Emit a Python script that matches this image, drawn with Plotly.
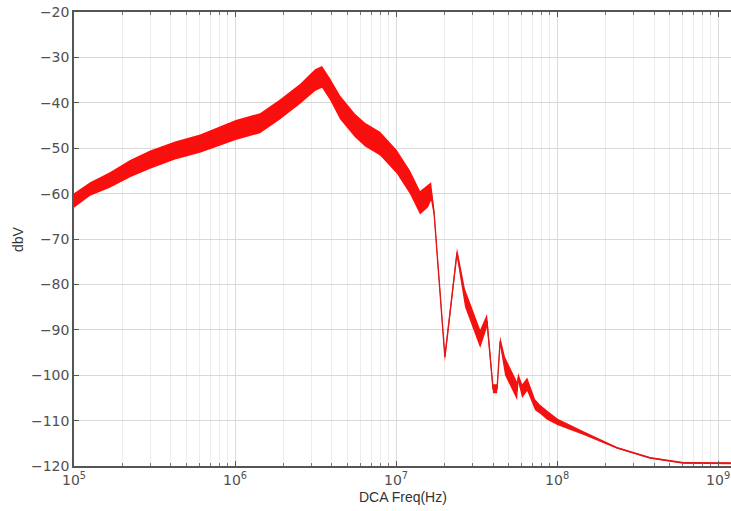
import plotly.graph_objects as go

# Frequency (Hz)
freq = [1.0e5, 1.26e5, 1.67e5, 2.23e5, 2.97e5, 4.24e5, 6.06e5, 1.01e6, 1.43e6, 1.90e6,
        2.54e6, 3.14e6, 3.47e6, 3.89e6, 4.49e6, 5.56e6, 6.42e6, 7.96e6, 1.01e7, 1.22e7,
        1.41e7, 1.58e7, 1.65e7, 1.72e7, 2.01e7, 2.39e7, 2.68e7, 3.33e7, 3.67e7, 4.00e7,
        4.24e7, 4.43e7, 4.75e7, 5.65e7, 5.73e7, 6.07e7, 6.52e7, 7.30e7, 7.84e7, 8.67e7,
        1.01e8, 1.45e8, 2.36e8, 3.78e8, 6.07e8, 1.0e9, 1.2e9]
# Centre level (dBV)
level = [-61.5, -59.0, -57.0, -54.5, -52.5, -50.5, -49.0, -46.0, -44.5, -41.5,
         -38.0, -35.0, -34.3, -37.0, -41.0, -45.0, -47.0, -49.0, -53.0, -57.5,
         -62.0, -60.5, -59.5, -64.0, -96.0, -73.0, -83.0, -92.0, -88.0, -103.0,
         -103.0, -92.5, -98.0, -103.5, -100.5, -103.5, -102.0, -106.5, -107.5, -108.8,
         -110.3, -112.7, -116.0, -118.2, -119.3, -119.4, -119.4]
# Half width of the noisy band (dB)
spread = [1.6, 1.5, 1.7, 1.9, 2.0, 2.0, 2.0, 2.2, 2.2, 2.2,
          2.2, 2.4, 2.4, 2.4, 2.6, 2.6, 2.6, 2.6, 2.6, 2.6,
          2.6, 2.5, 2.0, 1.0, 1.0, 1.0, 2.0, 2.0, 1.5, 1.0,
          1.0, 1.0, 2.0, 2.0, 1.0, 1.5, 1.5, 1.2, 1.0, 1.0,
          0.7, 0.4, 0.2, 0.2, 0.2, 0.2, 0.2]

upper = [c + s for c, s in zip(level, spread)]
lower = [c - s for c, s in zip(level, spread)]

x_major = [1e5, 1e6, 1e7, 1e8, 1e9]
x_major_text = ["10<sup>5</sup>", "10<sup>6</sup>", "10<sup>7</sup>", "10<sup>8</sup>", "10<sup>9</sup>"]
x_minor = [m * d for d in [1e5, 1e6, 1e7, 1e8] for m in range(2, 10)]
y_ticks = list(range(-120, -19, 10))

fig = go.Figure()
fig.add_trace(go.Scatter(x=freq, y=upper, mode="lines", line=dict(width=0, color="#ff0000"),
                         showlegend=False, hoverinfo="skip"))
fig.add_trace(go.Scatter(x=freq, y=lower, mode="lines", line=dict(width=0, color="#ff0000"),
                         fill="tonexty", fillcolor="rgba(255,0,0,0.95)", showlegend=False,
                         hoverinfo="skip"))
fig.add_trace(go.Scatter(x=freq, y=level, mode="lines", line=dict(width=1.4, color="#dd1a1a"),
                         showlegend=False))

axis_font = dict(family="DejaVu Sans", size=14, color="#505050")
title_font = dict(family="Liberation Sans", size=14, color="#333333")
fig.update_layout(
    width=731, height=511,
    margin=dict(l=74, r=0, t=12, b=45),
    paper_bgcolor="white", plot_bgcolor="white",
    xaxis=dict(
        type="log", range=[5, 9.08], automargin=False,
        tickmode="array", tickvals=x_major, ticktext=x_major_text,
        showgrid=True, gridcolor="#dcdcdc", gridwidth=1,
        showline=True, linecolor="#555555", linewidth=1.5, mirror="ticks",
        ticks="inside", ticklen=5, tickcolor="#555555",
        minor=dict(tickmode="array", tickvals=x_minor, showgrid=True, gridcolor="#ececec",
                   gridwidth=1, ticks="inside", ticklen=3, tickcolor="#777777"),
        tickfont=axis_font, zeroline=False,
    ),
    yaxis=dict(
        range=[-120, -20], automargin=False,
        tickmode="array", tickvals=y_ticks,
        showgrid=True, gridcolor="#d8d8d8", gridwidth=1,
        showline=True, linecolor="#555555", linewidth=1.5, mirror=False,
        ticks="inside", ticklen=5, tickcolor="#555555",
        tickfont=axis_font, zeroline=False,
    ),
    annotations=[
        dict(text="DCA Freq(Hz)", xref="paper", yref="paper", x=0.5, y=0,
             yshift=-31, xanchor="center", yanchor="middle", showarrow=False, font=title_font),
        dict(text="dbV", xref="paper", yref="paper", x=0, y=0.5,
             xshift=-56, xanchor="center", yanchor="middle", textangle=-90,
             showarrow=False, font=title_font),
    ],
)

fig.write_html("out.html", config={"displayModeBar": False},
               post_script="document.body.style.margin='0';document.body.style.overflow='hidden';")
